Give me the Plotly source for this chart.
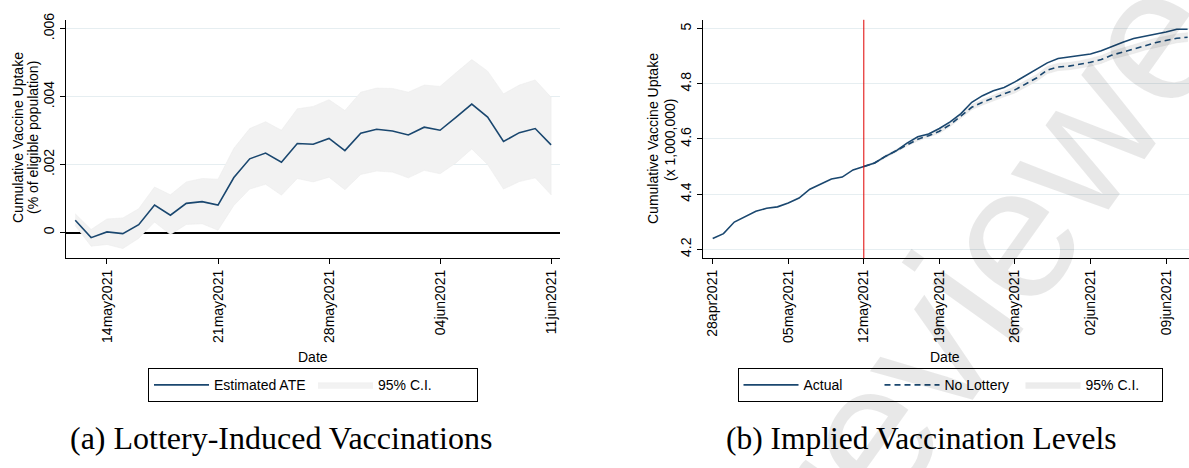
import plotly.graph_objects as go
import pandas as pd

# ---------------- data: panel (a) ----------------
ate_start = "2021-05-12"
ate = [0.00036, -0.00015, 0.00002, -0.00003, 0.00023, 0.00081, 0.00051, 0.00086, 0.00091, 0.00081,
       0.00162, 0.00217, 0.00234, 0.00207, 0.00262, 0.00260, 0.00277, 0.00241, 0.00292, 0.00304,
       0.00299, 0.00287, 0.00310, 0.00301, 0.00339, 0.00378, 0.00340, 0.00268, 0.00294, 0.00306, 0.00258]
ate_upper = [0.00055, 0.00009, 0.00040, 0.00043, 0.00070, 0.00134, 0.00111, 0.00149, 0.00159, 0.00157,
             0.00248, 0.00306, 0.00326, 0.00301, 0.00364, 0.00371, 0.00391, 0.00359, 0.00413, 0.00425,
             0.00424, 0.00413, 0.00434, 0.00430, 0.00470, 0.00509, 0.00475, 0.00408, 0.00434, 0.00449, 0.00398]
ate_lower = [0.00020, -0.00040, -0.00035, -0.00047, -0.00017, 0.00031, -0.00006, 0.00024, 0.00026, 0.00007,
             0.00080, 0.00128, 0.00142, 0.00110, 0.00159, 0.00149, 0.00163, 0.00126, 0.00171, 0.00181,
             0.00178, 0.00161, 0.00183, 0.00173, 0.00205, 0.00246, 0.00200, 0.00128, 0.00150, 0.00161, 0.00111]
a_xticks = ["2021-05-14", "2021-05-21", "2021-05-28", "2021-06-04", "2021-06-11"]
a_xticktext = ["14may2021", "21may2021", "28may2021", "04jun2021", "11jun2021"]
a_yticks = [0, 0.002, 0.004, 0.006]
a_yticktext = ["0", ".002", ".004", ".006"]

# ---------------- data: panel (b) ----------------
act_start = "2021-04-28"
actual = [4.239, 4.257, 4.299, 4.320, 4.338, 4.349, 4.354, 4.368, 4.386, 4.418, 4.436, 4.455, 4.462,
          4.488, 4.500, 4.513, 4.537, 4.557, 4.585, 4.608, 4.618, 4.638, 4.662, 4.692, 4.733, 4.757,
          4.775, 4.787, 4.807, 4.829, 4.852, 4.876, 4.892, 4.897, 4.902, 4.908, 4.920, 4.936, 4.951,
          4.964, 4.972, 4.979, 4.988, 4.998, 4.998]
nl_start = "2021-05-12"
no_lottery = [4.500, 4.513, 4.537, 4.557, 4.579, 4.599, 4.612, 4.628, 4.652, 4.683, 4.715, 4.733,
              4.749, 4.764, 4.778, 4.800, 4.821, 4.850, 4.861, 4.864, 4.870, 4.878, 4.888, 4.904,
              4.915, 4.925, 4.937, 4.949, 4.956, 4.965, 4.969]
nl_upper = [4.502, 4.516, 4.541, 4.562, 4.584, 4.605, 4.618, 4.635, 4.659, 4.691, 4.724, 4.743,
            4.759, 4.775, 4.789, 4.812, 4.833, 4.863, 4.874, 4.877, 4.883, 4.892, 4.902, 4.918,
            4.930, 4.940, 4.952, 4.965, 4.972, 4.981, 4.985]
nl_lower = [4.498, 4.510, 4.533, 4.552, 4.574, 4.593, 4.606, 4.621, 4.645, 4.675, 4.706, 4.723,
            4.739, 4.753, 4.767, 4.788, 4.809, 4.837, 4.848, 4.851, 4.857, 4.864, 4.874, 4.890,
            4.900, 4.910, 4.922, 4.933, 4.940, 4.949, 4.953]
lottery_date = "2021-05-12"
b_xticks = ["2021-04-28", "2021-05-05", "2021-05-12", "2021-05-19", "2021-05-26", "2021-06-02", "2021-06-09"]
b_xticktext = ["28apr2021", "05may2021", "12may2021", "19may2021", "26may2021", "02jun2021", "09jun2021"]
b_yticks = [4.2, 4.4, 4.6, 4.8, 5.0]
b_yticktext = ["4.2", "4.4", "4.6", "4.8", "5"]

# ---------------- build ----------------
W, H = 1189, 468
def fx(p): return p / W
def fy(p): return 1 - p / H

ate_dates = list(pd.date_range(ate_start, periods=len(ate), freq="D"))
act_dates = list(pd.date_range(act_start, periods=len(actual), freq="D"))
nl_dates = list(pd.date_range(nl_start, periods=len(no_lottery), freq="D"))

NAVY = "#1a476f"
BAND = "#f2f2f2"
SANS = "Liberation Sans, Arial, sans-serif"

fig = go.Figure()
fig.add_trace(go.Scatter(x=ate_dates + ate_dates[::-1], y=ate_upper + ate_lower[::-1],
                         fill="toself", fillcolor=BAND, line=dict(color="#ececec", width=0.6),
                         mode="lines", name="95% C.I.", xaxis="x", yaxis="y",
                         legend="legend", legendrank=2, hoverinfo="skip"))
fig.add_trace(go.Scatter(x=ate_dates, y=ate, mode="lines", line=dict(color=NAVY, width=1.6),
                         name="Estimated ATE", xaxis="x", yaxis="y", legend="legend", legendrank=1))

fig.add_trace(go.Scatter(x=nl_dates + nl_dates[::-1], y=nl_upper + nl_lower[::-1],
                         fill="toself", fillcolor="#ececec", line=dict(color="#e6e6e6", width=0.6),
                         mode="lines", name="95% C.I.", xaxis="x2", yaxis="y2",
                         legend="legend2", legendrank=3, hoverinfo="skip"))
fig.add_trace(go.Scatter(x=act_dates, y=actual, mode="lines", line=dict(color=NAVY, width=1.6),
                         name="Actual", xaxis="x2", yaxis="y2", legend="legend2", legendrank=1))
fig.add_trace(go.Scatter(x=nl_dates, y=no_lottery, mode="lines",
                         line=dict(color=NAVY, width=1.6, dash="6px,4px"),
                         name="No Lottery", xaxis="x2", yaxis="y2", legend="legend2", legendrank=2))

common_x = dict(tickangle=-90, ticks="outside", ticklen=5, tickcolor="black", tickwidth=1,
                showline=True, linecolor="black", linewidth=1, showgrid=False, zeroline=False,
                tickfont=dict(family=SANS, size=14, color="black"), tickmode="array")
common_y = dict(tickangle=-90, ticks="outside", ticklen=5, tickcolor="black", tickwidth=1,
                showline=True, linecolor="black", linewidth=1, showgrid=True,
                gridcolor="#e6eef1", gridwidth=1,
                tickfont=dict(family=SANS, size=14, color="black"), tickmode="array")
ydom = [fy(255), fy(13)]

fig.update_layout(
    width=W, height=H, margin=dict(l=0, r=0, t=0, b=0),
    paper_bgcolor="white", plot_bgcolor="white", showlegend=True,
    xaxis=dict(domain=[fx(66), fx(560)], anchor="y",
               range=["2021-05-11 10:00", "2021-06-11 13:30"],
               tickvals=a_xticks, ticktext=a_xticktext, **common_x),
    yaxis=dict(domain=ydom, anchor="x", range=[-0.000754, 0.00626],
               tickvals=a_yticks, ticktext=a_yticktext,
               zeroline=True, zerolinecolor="black", zerolinewidth=1.5, **common_y),
    xaxis2=dict(domain=[fx(702.7), fx(1188.5)], anchor="y2",
                range=["2021-04-27 01:45", "2021-06-11 02:00"],
                tickvals=b_xticks, ticktext=b_xticktext, **common_x),
    yaxis2=dict(domain=ydom, anchor="x2", range=[4.168, 5.032],
                tickvals=b_yticks, ticktext=b_yticktext, zeroline=False, **common_y),
    legend=dict(orientation="h", x=fx(313), xanchor="center", y=fy(384), yanchor="middle",
                bordercolor="black", borderwidth=1, bgcolor="white",
                font=dict(family=SANS, size=14, color="black"),
                entrywidth=94, entrywidthmode="pixels", itemwidth=55),
    legend2=dict(orientation="h", x=fx(950), xanchor="center", y=fy(384), yanchor="middle",
                 bordercolor="black", borderwidth=1, bgcolor="white",
                 font=dict(family=SANS, size=14, color="black"),
                 entrywidth=71, entrywidthmode="pixels", itemwidth=55),
)

fig.add_shape(type="line", xref="x2", yref="y2 domain", x0=lottery_date, x1=lottery_date,
              y0=0, y1=1, line=dict(color="#e00000", width=1))

ann = []
def txt(x, y, s, size=14, angle=0, family=SANS, color="black"):
    ann.append(dict(x=fx(x), y=fy(y), xref="paper", yref="paper", text=s, showarrow=False,
                    textangle=angle, xanchor="center", yanchor="middle",
                    font=dict(family=family, size=size, color=color)))

txt(18, 133, "Cumulative Vaccine Uptake", angle=-90)
txt(33, 133, "(% of eligible population)", angle=-90)
txt(653, 134, "Cumulative Vaccine Uptake", angle=-90)
txt(670, 135, "(x 1,000,000)", angle=-90)
txt(313, 355, "Date")
txt(945, 355, "Date")
SERIF = "Liberation Serif, Times New Roman, serif"
txt(281, 438, "(a) Lottery-Induced Vaccinations", size=32, family=SERIF)
txt(921, 438, "(b) Implied Vaccination Levels", size=31.5, family=SERIF)
# diagonal watermark
txt(1020, 216, "reviewed", size=190, angle=-54.5, color="rgba(0,0,0,0.09)")
fig.update_layout(annotations=ann)

fig.write_html("out.html")
